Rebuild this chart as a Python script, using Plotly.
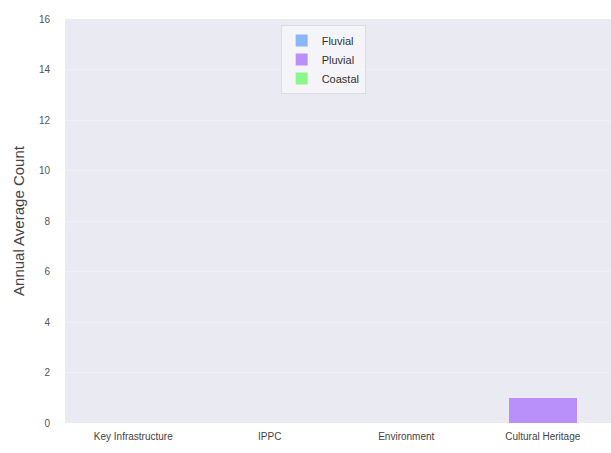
import plotly.graph_objects as go

# Categories and annual average counts per flood type
categories = ["Key Infrastructure", "IPPC", "Environment", "Cultural Heritage"]
fluvial = [0, 0, 0, 0]
pluvial = [0, 0, 0, 1]
coastal = [0, 0, 0, 0]
y_ticks = [0, 2, 4, 6, 8, 10, 12, 14, 16]

series = [
    ("Fluvial", fluvial, "#8ab6f9"),
    ("Pluvial", pluvial, "#b98ffa"),
    ("Coastal", coastal, "#8cf58c"),
]

fig = go.Figure()
for name, vals, color in series:
    fig.add_trace(go.Bar(
        x=categories, y=vals, name=name,
        marker=dict(color=color, line=dict(width=0)),
    ))

fig.update_layout(
    width=611, height=453,
    margin=dict(l=65, r=0, t=19, b=30),
    barmode="stack", bargap=0.5,
    paper_bgcolor="white",
    plot_bgcolor="#eaeaf3",
    font=dict(family="Liberation Sans, Arial, sans-serif", color="#555555"),
    showlegend=True,
    legend=dict(
        x=0.395, y=0.985, xanchor="left", yanchor="top",
        traceorder="normal",
        bgcolor="rgba(246,246,250,0.9)", bordercolor="#dcdce6", borderwidth=1,
        font=dict(size=11, color="#333333"),
        tracegroupgap=0, itemwidth=30,
    ),
    xaxis=dict(
        showgrid=False, zeroline=False, showline=False,
        tickfont=dict(size=10, color="#444444"), ticks="", ticklen=0,
        ticklabelstandoff=6,
    ),
    yaxis=dict(
        range=[0, 16], tickvals=y_ticks,
        showgrid=True, gridcolor="#f0f0f6", gridwidth=1,
        zeroline=False, showline=False,
        tickfont=dict(size=10, color="#555555"), ticks="",
        ticklabelstandoff=14,
        title=dict(text="Annual Average Count", font=dict(size=15, color="#444444"), standoff=10),
    ),
)

fig.write_html("out.html")
